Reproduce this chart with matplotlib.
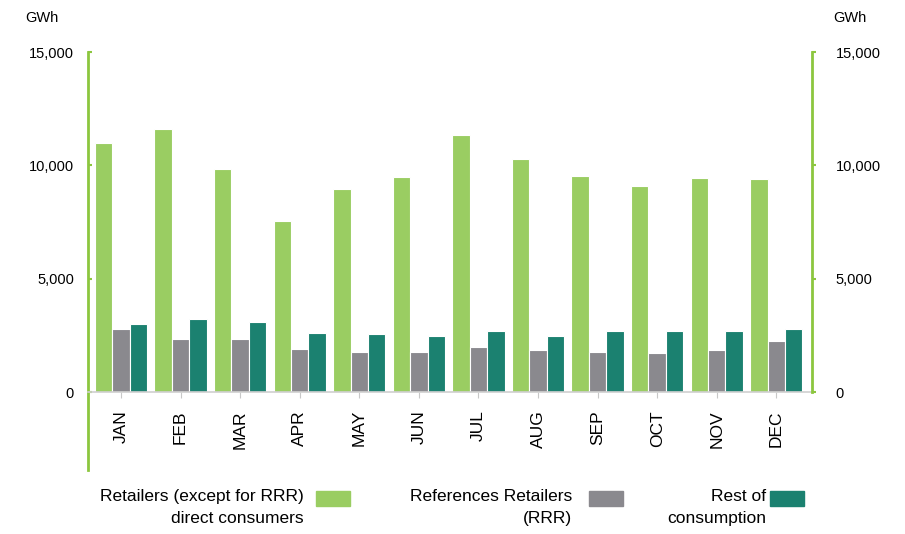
import matplotlib.pyplot as plt
import numpy as np
from matplotlib.patches import Rectangle

plt.rcParams['font.family'] = ['Liberation Sans', 'DejaVu Sans']

# data (GWh)
months = ["JAN", "FEB", "MAR", "APR", "MAY", "JUN", "JUL", "AUG", "SEP", "OCT", "NOV", "DEC"]
retailers = [10970, 11620, 9820, 7540, 8940, 9500, 11340, 10270, 9540, 9100, 9450, 9410]
rrr = [2780, 2330, 2330, 1890, 1770, 1770, 2000, 1840, 1760, 1710, 1870, 2240]
rest = [3000, 3220, 3100, 2610, 2540, 2480, 2710, 2450, 2670, 2710, 2710, 2800]

legend_labels = ["Retailers (except for RRR)\ndirect consumers",
                 "References Retailers\n(RRR)",
                 "Rest of\nconsumption"]
colors = ["#9acd62", "#8a898e", "#1b8170"]
axis_green = "#8cc63f"

W, H = 905, 534
fig = plt.figure(figsize=(W / 100, H / 100), dpi=100)
ax = fig.add_axes([88 / W, 1 - 470 / H, (812 - 88) / W, (470 - 52) / H])

x = np.arange(len(months))
w = 0.293
for i, (vals, c) in enumerate(zip([retailers, rrr, rest], colors)):
    ax.bar(x + (i - 1) * w, vals, width=w, color=c, edgecolor="white", linewidth=0.8)

ax.set_xlim(-0.555, 11.6)
ax.set_ylim(-3440, 15000)
ticks = [0, 5000, 10000, 15000]
ax.set_yticks(ticks)
ax.set_yticklabels([f"{t:,}" for t in ticks])

ax.spines['top'].set_visible(False)
ax.spines['right'].set_visible(False)
ax.spines['left'].set_color(axis_green)
ax.spines['left'].set_linewidth(2)
ax.spines['bottom'].set_position(('data', 0))
ax.spines['bottom'].set_color("#d0d0d0")
ax.spines['bottom'].set_linewidth(1.2)

ax.set_xticks(x)
ax.set_xticklabels(months, rotation=90, fontsize=12.5)
ax.tick_params(axis='x', length=4, color="#c8c8c8", pad=9)
ax.tick_params(axis='y', direction='in', length=3, color=axis_green, width=1.5,
               labelsize=10.5, pad=10)

ax2 = ax.twinx()
ax2.set_ylim(ax.get_ylim())
ax2.set_yticks(ticks)
ax2.set_yticklabels([f"{t:,}" for t in ticks])
for s in ['top', 'left', 'bottom']:
    ax2.spines[s].set_visible(False)
ax2.spines['right'].set_color(axis_green)
ax2.spines['right'].set_linewidth(2)
ax2.spines['right'].set_bounds(0, 15000)
ax2.tick_params(axis='y', direction='out', length=3, color=axis_green, width=1.5,
                labelsize=10.5, pad=14)

fig.text(42 / W, 1 - 18 / H, "GWh", ha="center", va="center", fontsize=10.5)
fig.text(850 / W, 1 - 18 / H, "GWh", ha="center", va="center", fontsize=10.5)

# legend, text right-aligned next to the swatch
text_right = [304, 572, 766]
patch_left = [316, 589, 770]
for lab, c, tr, pl in zip(legend_labels, colors, text_right, patch_left):
    fig.text(tr / W, 1 - 489 / H, lab, ha="right", va="top", fontsize=12.5,
             multialignment="right", linespacing=1.6)
    fig.patches.append(Rectangle((pl / W, 1 - 506 / H), 34 / W, 15 / H,
                                 transform=fig.transFigure, color=c))

fig.savefig("out.png", dpi=100)
